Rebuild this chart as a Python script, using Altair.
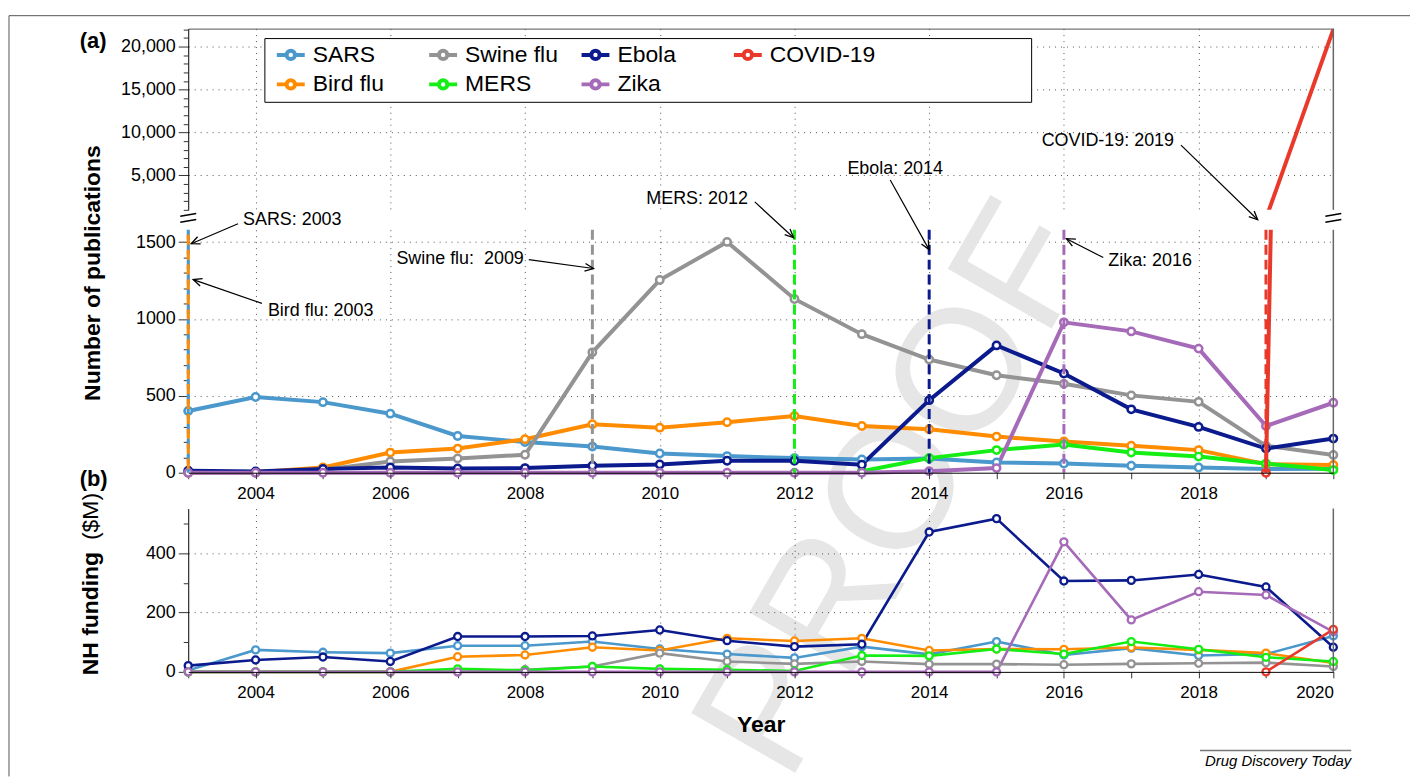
import altair as alt
import pandas as pd

FONT = "Liberation Sans"
N = None

# ---------------- data ----------------
years = list(range(2003, 2021))
series_order = ["SARS", "Bird flu", "Swine flu", "MERS", "Ebola", "Zika", "COVID-19"]
palette = {"SARS": "#4a98cc", "Bird flu": "#ff8c00", "Swine flu": "#939393", "MERS": "#14ee14",
           "Ebola": "#0b1a8c", "Zika": "#a66bb8", "COVID-19": "#e8392b"}

# (a) number of publications
pub_sars = [401, 492, 459, 384, 239, 200, 170, 125, 108, 95, 86, 93, 67, 60, 45, 34, 24, 25]
pub_bird = [0, 3, 34, 131, 157, 218, 315, 293, 328, 369, 304, 283, 235, 203, 175, 147, 56, 50]
pub_swine = [0, 0, 20, 73, 93, 117, 783, 1253, 1501, 1130, 901, 736, 634, 578, 503, 461, 175, 115]
pub_mers = [N] * 10 + [10, 95, 147, 183, 131, 105, 60, 17]
pub_ebola = [13, 8, 25, 34, 28, 30, 45, 54, 78, 78, 52, 472, 828, 645, 412, 298, 157, 222]
pub_zika = [0] * 11 + [10, 30, 978, 919, 807, 304, 455]
pub_covid = [N] * 16 + [0, 22000]

# (b) NIH funding ($M)
fund_sars = [5, 74, 66, 63, 88, 88, 102, 77, 60, 47, 85, 59, 102, 57, 80, 55, 60, 121]
fund_bird = [0, 0, 0, 0, 51, 57, 83, 72, 113, 104, 113, 72, 77, 76, 82, 74, 63, 30]
fund_swine = [0, 0, 0, 0, 0, 7, 18, 63, 35, 27, 35, 26, 26, 24, 27, 29, 31, 18]
fund_mers = [0, 0, 0, 0, 10, 5, 18, 10, 7, 3, 55, 54, 77, 60, 102, 76, 49, 35]
fund_ebola = [21, 40, 50, 35, 119, 119, 121, 141, 105, 85, 93, 471, 516, 306, 308, 328, 286, 83]
fund_zika = [0] * 13 + [438, 175, 270, 259, 135]
fund_covid = [N] * 16 + [0, 143]

# outbreak years (dashed markers)
event_disease = ["SARS", "Bird flu", "Swine flu", "MERS", "Ebola", "Zika", "COVID-19"]
event_year = [2003, 2003, 2009, 2012, 2014, 2016, 2019]

# annotation labels and arrows (data coordinates of the lower part of panel a)
ann_text = ["SARS: 2003", "Bird flu: 2003", "Swine flu:\u00a0 2009", "MERS: 2012",
            "Ebola: 2014", "Zika: 2016", "COVID-19: 2019"]
ann_x = [2003.813, 2004.183, 2007.982, 2011.308, 2012.786, 2016.659, 2017.635]
ann_y = [1645, 1049, 1392, 1781, 1975, 1379, 2156]
ann_align = ["left", "left", "right", "right", "left", "left", "right"]
arr_x0 = [2003.739, 2004.094, 2008.056, 2011.411, 2013.422, 2016.585, 2017.738]
arr_y0 = [1619, 1101, 1386, 1761, 1904, 1399, 2130]
arr_x1 = [2003.044, 2003.074, 2009.017, 2011.988, 2013.998, 2016.038, 2018.877]
arr_y1 = [1489, 1256, 1328, 1528, 1451, 1522, 1645]
arr_angle = [247, 289, 98, 133, 151, 297, 134]

# axis tick values
x_major_a = list(range(2004, 2019, 2))
x_minor_a = [y for y in years if y not in x_major_a]
x_major_b = list(range(2004, 2021, 2))
x_minor_b = [y for y in years if y not in x_major_b]
x_grid = list(range(2004, 2019, 2))
y_major_top = [5000, 10000, 15000, 20000]
y_minor_top = [v for v in range(1000, 22001, 1000) if v % 5000]
y_major_low = [0, 500, 1000, 1500]
y_minor_low = [v for v in range(0, 1501, 100) if v % 500]
y_major_b = [0, 200, 400]
y_minor_b = [100, 300, 500]

# ---------------- tables ----------------
pub_map = {"SARS": pub_sars, "Bird flu": pub_bird, "Swine flu": pub_swine, "MERS": pub_mers,
           "Ebola": pub_ebola, "Zika": pub_zika, "COVID-19": pub_covid}
fund_map = {"SARS": fund_sars, "Bird flu": fund_bird, "Swine flu": fund_swine, "MERS": fund_mers,
            "Ebola": fund_ebola, "Zika": fund_zika, "COVID-19": fund_covid}


def long_table(m):
    rows = []
    for i, d in enumerate(series_order):
        for y, v in zip(years, m[d]):
            if v is not None:
                rows.append({"year": y, "disease": d, "value": v, "ord": i})
    return pd.DataFrame(rows)


pub_df = long_table(pub_map)
fund_df = long_table(fund_map)
ev_df = pd.DataFrame({"disease": event_disease, "year": event_year})
ann_df = pd.DataFrame({"text": ann_text, "x": ann_x, "y": ann_y, "align": ann_align})
arr_df = pd.DataFrame({"x0": arr_x0, "y0": arr_y0, "x1": arr_x1, "y1": arr_y1, "ang": arr_angle})

# ---------------- scales / axes ----------------
W = 1150
H_TOP, H_LOW, H_B = 182, 244, 164
xs = alt.Scale(domain=[2003, 2020], nice=False, zero=False)
ys_top = alt.Scale(domain=[1000, 22100], nice=False, zero=False)
ys_low = alt.Scale(domain=[0, 1580], nice=False, zero=False)
ys_b = alt.Scale(domain=[0, 550], nice=False, zero=False)
cs = alt.Scale(domain=series_order, range=[palette[d] for d in series_order])

LEG_PATH = "M-1,0L-0.3,0M0.3,0L1,0M0.3,0A0.3,0.3 0 1,1 -0.3,0A0.3,0.3 0 1,1 0.3,0"
legend = alt.Legend(orient="none", legendX=87, legendY=10, columns=4, title=None,
                    symbolType=LEG_PATH, symbolSize=784, symbolStrokeWidth=4,
                    symbolFillColor="white", labelFont=FONT, labelFontSize=23,
                    labelColor="black", labelOffset=6, columnPadding=2, rowPadding=1,
                    gridAlign="all", padding=0, labelLimit=300)
color = alt.Color("disease:N", scale=cs, legend=legend)


def xf(field):
    return alt.X(field, scale=xs, axis=None)


def yf(field, sc):
    return alt.Y(field, scale=sc, axis=None)


def right_frame():
    return alt.Chart(pd.DataFrame({"x": [2020]})).mark_rule(color="#666", strokeWidth=1.5).encode(
        x=xf("x:Q"))


def pad_list(v, n):
    return (v + [v[-1]] * n)[:n]


def minor_layer(xvals, yvals, ysc):
    # invisible layer carrying only the minor-tick axes
    n = max(len(xvals), len(yvals))
    df = pd.DataFrame({"mx": pad_list(xvals or [2010], n), "my": pad_list(yvals, n)})
    yax = alt.Axis(orient="left", values=yvals, labels=False, tickSize=5, domain=False,
                   grid=False, title=None)
    if xvals:
        xax = alt.Axis(orient="bottom", values=xvals, labels=False, tickSize=6, domain=False,
                       grid=False, title=None)
    else:
        xax = None
    return alt.Chart(df).mark_point(opacity=0).encode(
        x=alt.X("mx:Q", scale=xs, axis=xax), y=alt.Y("my:Q", scale=ysc, axis=yax))


def grid_layer(xvals, yvals, ysc):
    # invisible layer carrying only the dotted grid (drawn beneath the data)
    n = max(len(xvals), len(yvals))
    df = pd.DataFrame({"gx": pad_list(xvals, n), "gy": pad_list(yvals, n)})
    xax = alt.Axis(orient="bottom", values=xvals, labels=False, ticks=False, domain=False,
                   grid=True, title=None, zindex=0)
    yax = alt.Axis(orient="left", values=yvals, labels=False, ticks=False, domain=False,
                   grid=True, title=None, zindex=0)
    return alt.Chart(df).mark_point(opacity=0).encode(
        x=alt.X("gx:Q", scale=xs, axis=xax), y=alt.Y("gy:Q", scale=ysc, axis=yax))


# ---------------- top segment of (a) ----------------
x_top_axis = alt.Axis(orient="top", labels=False, ticks=False, domain=True, domainColor="#555",
                      values=x_major_a, grid=False, title=None)
y_top_axis = alt.Axis(orient="left", values=y_major_top, labelExpr="format(datum.value, ',')",
                      tickSize=10, labelPadding=3, grid=False, title=None)

top_lines = alt.Chart(pub_df).transform_filter("datum.disease == 'COVID-19'").mark_line(
    clip=True, strokeWidth=4).encode(
    x=alt.X("year:Q", scale=xs, axis=x_top_axis),
    y=alt.Y("value:Q", scale=ys_top, axis=y_top_axis),
    color=color)

box_df = pd.DataFrame({"x0": [2004.138], "x1": [2015.521], "y0": [20941], "y1": [13521]})
legend_box = alt.Chart(box_df).mark_rect(fill="white", stroke="black", strokeWidth=1).encode(
    x=xf("x0:Q"), x2="x1:Q", y=yf("y0:Q", ys_top), y2="y1:Q")

lab_a = alt.Chart(pd.DataFrame({"x": [2001.588], "y": [20709], "t": ["(a)"]})).mark_text(
    font=FONT, fontSize=22, fontWeight="bold", color="black").encode(
    x=xf("x:Q"), y=yf("y:Q", ys_top), text="t:N")

border_top = alt.Chart(pd.DataFrame({"x0": [2000.339], "x1": [2021.138], "y": [23607]})).mark_rule(
    color="#555", strokeWidth=1).encode(x=xf("x0:Q"), x2="x1:Q", y=yf("y:Q", ys_top))

top = alt.layer(grid_layer(x_grid, y_major_top, ys_top), legend_box, top_lines, lab_a, border_top,
                right_frame(), minor_layer([], y_minor_top, ys_top)).resolve_axis(
    x="independent", y="independent").properties(width=W, height=H_TOP)

# ---------------- lower segment of (a) ----------------
x_low_axis = alt.Axis(orient="bottom", values=x_major_a, grid=False, tickSize=6,
                      labelExpr="format(datum.value, 'd')", labelPadding=7, title=None, zindex=1)
y_low_axis = alt.Axis(orient="left", values=y_major_low, labelExpr="format(datum.value, 'd')",
                      tickSize=10, labelPadding=3, grid=False,
                      title="Number of publications", titleFontSize=23, titleFontWeight="bold",
                      titleX=-96, titleY=43, titleBaseline="middle", titleAlign="center",
                      titleAngle=270, zindex=0)

wm = alt.Chart(pd.DataFrame({"x": [2013.525], "y": [-116.6], "t": ["PROOF"]})).mark_text(
    font=FONT, fontSize=175, angle=300, color="#e6e6e6").encode(
    x=xf("x:Q"), y=yf("y:Q", ys_low), text="t:N")

low_base = alt.Chart(pub_df)
low_lines = low_base.transform_filter("datum.disease != 'COVID-19'").mark_line(strokeWidth=4).encode(
    x=alt.X("year:Q", scale=xs, axis=x_low_axis),
    y=alt.Y("value:Q", scale=ys_low, axis=y_low_axis),
    color=color, order="year:Q")
low_pts = low_base.transform_filter("datum.value <= 1580").mark_point(
    shape="circle", filled=False, fill="white", opacity=1, size=55, strokeWidth=2.5).encode(
    x=xf("year:Q"), y=yf("value:Q", ys_low), color=color)
covid_low = low_base.transform_filter("datum.disease == 'COVID-19'").mark_line(
    clip=True, strokeWidth=4).encode(x=xf("year:Q"), y=yf("value:Q", ys_low), color=color)

ev_main = alt.Chart(ev_df).transform_filter("datum.disease != 'Bird flu'").mark_rule(
    strokeWidth=3, strokeDash=[10, 5]).encode(x=xf("year:Q"), color=color)
ev_bird = alt.Chart(ev_df).transform_filter("datum.disease == 'Bird flu'").mark_rule(
    strokeWidth=3, strokeDash=[10, 5], strokeDashOffset=10).encode(x=xf("year:Q"), color=color)

ann_left = alt.Chart(ann_df).transform_filter("datum.align == 'left'").mark_text(
    font=FONT, fontSize=18, align="left", baseline="middle", color="black").encode(
    x=xf("x:Q"), y=yf("y:Q", ys_low), text="text:N")
ann_right = alt.Chart(ann_df).transform_filter("datum.align == 'right'").mark_text(
    font=FONT, fontSize=18, align="right", baseline="middle", color="black").encode(
    x=xf("x:Q"), y=yf("y:Q", ys_low), text="text:N")
arrows = alt.Chart(arr_df).mark_rule(color="black", strokeWidth=1.2).encode(
    x=xf("x0:Q"), x2="x1:Q", y=yf("y0:Q", ys_low), y2="y1:Q")
heads = alt.Chart(arr_df).mark_point(
    shape="M-0.45,1L0,0L0.45,1", filled=False, size=300, strokeWidth=1.3, color="black",
    opacity=1).encode(x=xf("x1:Q"), y=yf("y1:Q", ys_low), angle=alt.Angle("ang:Q", scale=None))

brk = alt.Chart(pd.DataFrame({"x": [2003, 2020], "y": [1657.7, 1657.7]})).mark_point(
    shape="M-1,-0.2L1,-0.55M-1,0.55L1,0.2", filled=False, size=256, strokeWidth=1.5,
    color="black", opacity=1).encode(x=xf("x:Q"), y=yf("y:Q", ys_low))

lower = alt.layer(grid_layer(x_grid, [500, 1000, 1500], ys_low), wm, low_lines, low_pts, covid_low,
                  ev_main, ev_bird, ann_left, ann_right, arrows, heads, brk, right_frame(),
                  minor_layer(x_minor_a, y_minor_low, ys_low)).resolve_axis(
    x="independent", y="independent").properties(width=W, height=H_LOW)

# ---------------- (b) funding ----------------
x_b_axis = alt.Axis(orient="bottom", values=x_major_b, grid=False, tickSize=6,
                    labelExpr="format(datum.value, 'd')", labelPadding=7,
                    title="Year", titleFontSize=23, titleFontWeight="bold",
                    titleY=53, titleBaseline="middle", zindex=1)
y_b_axis = alt.Axis(orient="left", values=y_major_b, labelExpr="format(datum.value, 'd')",
                    tickSize=10, labelPadding=3, grid=False,
                    title="NH funding", titleFontSize=23, titleFontWeight="bold",
                    titleX=-98, titleY=105, titleBaseline="middle", titleAlign="center",
                    titleAngle=270, zindex=0)

b_base = alt.Chart(fund_df)
b_lines = b_base.mark_line(strokeWidth=2.6).encode(
    x=alt.X("year:Q", scale=xs, axis=x_b_axis),
    y=alt.Y("value:Q", scale=ys_b, axis=y_b_axis),
    color=color, order="year:Q")
b_pts = b_base.mark_point(shape="circle", filled=False, fill="white", opacity=1, size=50,
                          strokeWidth=2.3).encode(x=xf("year:Q"), y=yf("value:Q", ys_b), color=color)

lab_b = alt.Chart(pd.DataFrame({"x": [2001.596], "y": [650.6], "t": ["(b)"]})).mark_text(
    font=FONT, fontSize=22, fontWeight="bold", color="black").encode(
    x=xf("x:Q"), y=yf("y:Q", ys_b), text="t:N")
unit_b = alt.Chart(pd.DataFrame({"x": [2001.551], "y": [523.2], "t": ["($M)"]})).mark_text(
    font=FONT, fontSize=23, angle=270, color="black").encode(
    x=xf("x:Q"), y=yf("y:Q", ys_b), text="t:N")
journal = alt.Chart(pd.DataFrame({"x": [2020.266], "y": [-301.8], "t": ["Drug Discovery Today"]})).mark_text(
    font=FONT, fontSize=15, fontStyle="italic", align="right", color="black").encode(
    x=xf("x:Q"), y=yf("y:Q", ys_b), text="t:N")
jline = alt.Chart(pd.DataFrame({"x0": [2018.02], "x1": [2020.266], "y": [-265]})).mark_rule(
    color="#777", strokeWidth=1.5).encode(x=xf("x0:Q"), x2="x1:Q", y=yf("y:Q", ys_b))
border_left = alt.Chart(pd.DataFrame({"x": [2000.339], "y0": [2210], "y1": [-352]})).mark_rule(
    color="#555", strokeWidth=1).encode(x=xf("x:Q"), y=yf("y0:Q", ys_b), y2="y1:Q")

bpanel = alt.layer(grid_layer(x_grid, [200, 400], ys_b), b_lines, b_pts, lab_b, unit_b, journal,
                   jline, border_left, right_frame(),
                   minor_layer(x_minor_b, y_minor_b, ys_b)).resolve_axis(
    x="independent", y="independent").properties(width=W, height=H_B)


def spacer(h):
    return alt.Chart(pd.DataFrame({"a": [0]})).mark_point(opacity=0).properties(width=W, height=h)


chart = alt.vconcat(top, spacer(20), lower, spacer(36), bpanel, spacing=0, bounds="flush").resolve_scale(
    y="independent")
chart = chart.properties(padding={"left": 0, "top": 5, "right": 0, "bottom": 0}).configure(
    font=FONT).configure_view(stroke=None).configure_axis(
    labelFont=FONT, labelColor="black", labelFontSize=17, titleFont=FONT, titleColor="black",
    domainColor="black", domainWidth=1, tickColor="#333", tickWidth=1,
    gridColor="#555", gridDash=[1, 5], gridWidth=1).configure_axisY(labelFontSize=18)

chart.save("out.html", embed_options={"renderer": "svg", "actions": False})
